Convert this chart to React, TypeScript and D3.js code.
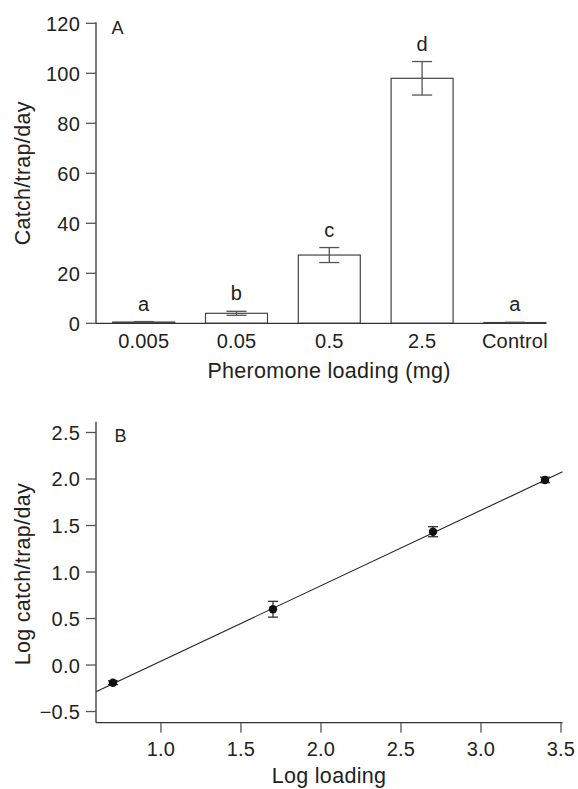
import React from "react";
import * as d3 from "d3";

// Panel A data
const loadings = ["0.005", "0.05", "0.5", "2.5", "Control"];
const catchMeans = [0.5, 4.0, 27.3, 98.0, 0.3];
const catchErrors = [0.2, 0.8, 3.0, 6.7, 0.1];
const sigLetters = ["a", "b", "c", "d", "a"];
const yTicksA = [0, 20, 40, 60, 80, 100, 120];

// Panel B data
const logLoading = [0.7, 1.7, 2.7, 3.4];
const logCatch = [-0.19, 0.6, 1.433, 1.99];
const logCatchErr = [0.02, 0.085, 0.054, 0.03];
const fitSlope = 0.811;
const fitIntercept = -0.769;
const xTicksB = [1.0, 1.5, 2.0, 2.5, 3.0, 3.5];
const yTicksB = [-0.5, 0.0, 0.5, 1.0, 1.5, 2.0, 2.5];

const FONT = "'Liberation Sans', Arial, Helvetica, sans-serif";
const TEXT = "#222";
const AXIS = "#333";
const TICK = "#555";

export default function App() {
  // Panel A scales
  const xA = d3.scaleBand<string>().domain(loadings).range([97.3, 561.3]).paddingInner(0.332).paddingOuter(0.166);
  const yA = d3.scaleLinear().domain([0, 120]).range([323.3, 23.3]);
  const axisLeftX = 96;
  const bw = xA.bandwidth();

  // Panel B scales
  const xB = d3.scaleLinear().domain([0.594, 3.51]).range([96, 562.6]);
  const yB = d3.scaleLinear().domain([-0.62, 2.616]).range([722.7, 421.7]);
  const fitLine = d3.line<number>().x((v) => xB(v)).y((v) => yB(fitSlope * v + fitIntercept));
  const xDom = xB.domain();

  const tickFont = { fontFamily: FONT, fontSize: 20, letterSpacing: 0.2, fill: TEXT } as const;
  const titleFont = { fontFamily: FONT, fontSize: 21.5, letterSpacing: 0.3, fill: TEXT } as const;

  return (
    <svg width={578} height={789} style={{ position: "absolute", left: 0, top: 0, background: "#fff" }}>
      <rect x={0} y={0} width={578} height={789} fill="#fff" />
      {/* ===== Panel A ===== */}
      <g>
        {loadings.map((c, i) => (
          <rect
            key={c}
            x={xA(c)!}
            y={yA(catchMeans[i])}
            width={bw}
            height={yA(0) - yA(catchMeans[i])}
            fill="#fff"
            stroke="#444"
            strokeWidth={1.2}
          />
        ))}
        {loadings.map((c, i) => {
          const cx = xA(c)! + bw / 2;
          const hi = yA(catchMeans[i] + catchErrors[i]);
          const lo = yA(catchMeans[i] - catchErrors[i]);
          return (
            <g key={"e" + c} stroke="#555" strokeWidth={1.3}>
              <line x1={cx} x2={cx} y1={hi} y2={lo} />
              <line x1={cx - 10} x2={cx + 10} y1={hi} y2={hi} />
              <line x1={cx - 10} x2={cx + 10} y1={lo} y2={lo} />
            </g>
          );
        })}
        {loadings.map((c, i) => (
          <text
            key={"l" + c}
            x={xA(c)! + bw / 2}
            y={yA(catchMeans[i] + catchErrors[i]) - 11}
            textAnchor="middle"
            {...tickFont}
          >
            {sigLetters[i]}
          </text>
        ))}
        <line x1={axisLeftX} x2={axisLeftX} y1={yA(120) - 1} y2={yA(0)} stroke={AXIS} strokeWidth={1.3} />
        <line x1={axisLeftX} x2={xA("Control")! + bw} y1={yA(0)} y2={yA(0)} stroke={AXIS} strokeWidth={1.3} />
        {yTicksA.map((t) => (
          <g key={"ya" + t}>
            <line x1={axisLeftX - 10} x2={axisLeftX} y1={yA(t)} y2={yA(t)} stroke={TICK} strokeWidth={1.3} />
            <text x={80} y={yA(t) + 7.5} textAnchor="end" {...tickFont}>
              {t}
            </text>
          </g>
        ))}
        {loadings.map((c) => (
          <text key={"xa" + c} x={xA(c)! + bw / 2} y={347.5} textAnchor="middle" {...tickFont}>
            {c}
          </text>
        ))}
        <text x={111.5} y={33.5} fontFamily={FONT} fontSize={18} fill={TEXT}>
          A
        </text>
        <text
          transform={`translate(30,${(yA(0) + yA(120)) / 2}) rotate(-90)`}
          textAnchor="middle"
          {...titleFont}
        >
          Catch/trap/day
        </text>
        <text x={329} y={378} textAnchor="middle" {...titleFont}>
          Pheromone loading (mg)
        </text>
      </g>

      {/* ===== Panel B ===== */}
      <g>
        <path d={fitLine(xDom) || ""} stroke="#222" strokeWidth={1.1} fill="none" />
        {logLoading.map((v, i) => {
          const cx = xB(v);
          const hi = yB(logCatch[i] + logCatchErr[i]);
          const lo = yB(logCatch[i] - logCatchErr[i]);
          return (
            <g key={"p" + i}>
              <g stroke="#222" strokeWidth={1.2}>
                <line x1={cx} x2={cx} y1={hi} y2={lo} />
                <line x1={cx - 5} x2={cx + 5} y1={hi} y2={hi} />
                <line x1={cx - 5} x2={cx + 5} y1={lo} y2={lo} />
              </g>
              <circle cx={cx} cy={yB(logCatch[i])} r={4.2} fill="#111" />
            </g>
          );
        })}
        <line x1={96} x2={96} y1={yB.range()[1]} y2={yB.range()[0]} stroke={AXIS} strokeWidth={1.3} />
        <line x1={96} x2={xB.range()[1]} y1={yB.range()[0]} y2={yB.range()[0]} stroke={AXIS} strokeWidth={1.3} />
        {yTicksB.map((t) => (
          <g key={"yb" + t}>
            <line x1={86} x2={96} y1={yB(t)} y2={yB(t)} stroke={TICK} strokeWidth={1.3} />
            <text x={80} y={yB(t) + 7.5} textAnchor="end" {...tickFont}>
              {t < 0 ? "\u2212" + Math.abs(t).toFixed(1) : t.toFixed(1)}
            </text>
          </g>
        ))}
        {xTicksB.map((t) => (
          <g key={"xb" + t}>
            <line x1={xB(t)} x2={xB(t)} y1={yB.range()[0]} y2={yB.range()[0] + 10} stroke={TICK} strokeWidth={1.3} />
            <text x={xB(t)} y={755.5} textAnchor="middle" {...tickFont}>
              {t.toFixed(1)}
            </text>
          </g>
        ))}
        <text x={114.5} y={441.5} fontFamily={FONT} fontSize={18} fill={TEXT}>
          B
        </text>
        <text
          transform={`translate(30,${(yB(-0.62) + yB(2.616)) / 2 + 2}) rotate(-90)`}
          textAnchor="middle"
          {...titleFont}
        >
          Log catch/trap/day
        </text>
        <text x={329} y={783} textAnchor="middle" {...titleFont}>
          Log loading
        </text>
      </g>
    </svg>
  );
}
